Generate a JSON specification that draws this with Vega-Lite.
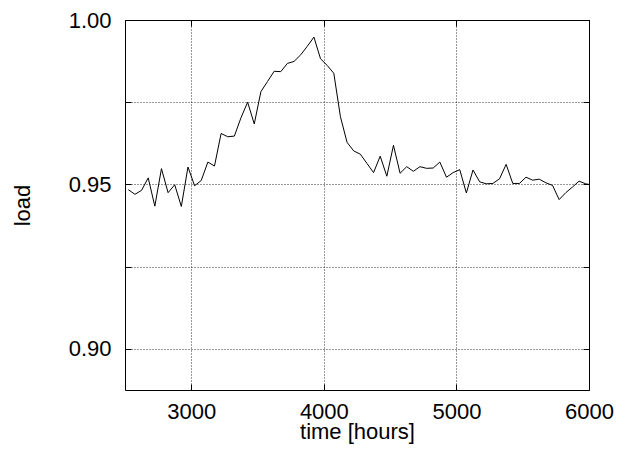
{
  "$schema": "https://vega.github.io/schema/vega-lite/v6.json",
  "width": 464,
  "height": 370,
  "autosize": {"type": "none"},
  "padding": {"left": 125, "top": 20, "right": 30, "bottom": 62},
  "background": "white",
  "config": {
    "view": {"stroke": "black", "strokeWidth": 1},
    "axis": {
      "labelFont": "Liberation Sans",
      "titleFont": "Liberation Sans",
      "labelFontSize": 22,
      "titleFontSize": 22,
      "labelColor": "black",
      "titleColor": "black",
      "titleFontWeight": "normal",
      "domain": false,
      "tickColor": "black",
      "tickSize": -6,
      "tickWidth": 1,
      "gridColor": "black",
      "gridDash": [1, 2],
      "gridWidth": 1,
      "gridOpacity": 0.8
    }
  },
  "data": {
    "values": [
      {"time": 2525, "load": 0.9484},
      {"time": 2575, "load": 0.9470},
      {"time": 2625, "load": 0.9482},
      {"time": 2675, "load": 0.9520},
      {"time": 2725, "load": 0.9434},
      {"time": 2775, "load": 0.9548},
      {"time": 2825, "load": 0.9475},
      {"time": 2875, "load": 0.9499},
      {"time": 2925, "load": 0.9433},
      {"time": 2975, "load": 0.9553},
      {"time": 3025, "load": 0.9496},
      {"time": 3075, "load": 0.9512},
      {"time": 3125, "load": 0.9568},
      {"time": 3175, "load": 0.9556},
      {"time": 3225, "load": 0.9655},
      {"time": 3275, "load": 0.9645},
      {"time": 3325, "load": 0.9647},
      {"time": 3375, "load": 0.9703},
      {"time": 3425, "load": 0.9750},
      {"time": 3475, "load": 0.9684},
      {"time": 3525, "load": 0.9782},
      {"time": 3575, "load": 0.9813},
      {"time": 3625, "load": 0.9844},
      {"time": 3675, "load": 0.9843},
      {"time": 3725, "load": 0.9868},
      {"time": 3775, "load": 0.9874},
      {"time": 3825, "load": 0.9894},
      {"time": 3875, "load": 0.9920},
      {"time": 3925, "load": 0.9948},
      {"time": 3975, "load": 0.9882},
      {"time": 4025, "load": 0.9862},
      {"time": 4075, "load": 0.9838},
      {"time": 4125, "load": 0.9706},
      {"time": 4175, "load": 0.9628},
      {"time": 4225, "load": 0.9602},
      {"time": 4275, "load": 0.9592},
      {"time": 4325, "load": 0.9564},
      {"time": 4375, "load": 0.9536},
      {"time": 4425, "load": 0.9586},
      {"time": 4475, "load": 0.9525},
      {"time": 4525, "load": 0.9619},
      {"time": 4575, "load": 0.9534},
      {"time": 4625, "load": 0.9554},
      {"time": 4675, "load": 0.9540},
      {"time": 4725, "load": 0.9554},
      {"time": 4775, "load": 0.9549},
      {"time": 4825, "load": 0.9550},
      {"time": 4875, "load": 0.9568},
      {"time": 4925, "load": 0.9522},
      {"time": 4975, "load": 0.9536},
      {"time": 5025, "load": 0.9545},
      {"time": 5075, "load": 0.9474},
      {"time": 5125, "load": 0.9544},
      {"time": 5175, "load": 0.9508},
      {"time": 5225, "load": 0.9502},
      {"time": 5275, "load": 0.9503},
      {"time": 5325, "load": 0.9517},
      {"time": 5375, "load": 0.9561},
      {"time": 5425, "load": 0.9503},
      {"time": 5475, "load": 0.9503},
      {"time": 5525, "load": 0.9522},
      {"time": 5575, "load": 0.9513},
      {"time": 5625, "load": 0.9516},
      {"time": 5675, "load": 0.9505},
      {"time": 5725, "load": 0.9497},
      {"time": 5775, "load": 0.9454},
      {"time": 5825, "load": 0.9475},
      {"time": 5875, "load": 0.9492},
      {"time": 5925, "load": 0.9510},
      {"time": 5975, "load": 0.9502},
      {"time": 6025, "load": 0.9498}
    ]
  },
  "layer": [
    {
      "mark": {"type": "line", "color": "black", "strokeWidth": 1, "clip": true},
      "encoding": {
        "x": {
          "field": "time",
          "type": "quantitative",
          "scale": {"domain": [2500, 6000], "nice": false, "zero": false},
          "axis": {
            "orient": "bottom",
            "values": [3000, 4000, 5000, 6000],
            "format": "d",
            "title": "time [hours]",
            "labelBaseline": "alphabetic",
            "labelPadding": 34,
            "labelFlush": false,
            "titleX": 232,
            "titleY": 48,
            "titleAlign": "center",
            "titleBaseline": "alphabetic"
          }
        },
        "y": {
          "field": "load",
          "type": "quantitative",
          "scale": {"domain": [0.8875, 1.0], "nice": false, "zero": false},
          "axis": {
            "orient": "left",
            "values": [0.9, 0.925, 0.95, 0.975, 1.0],
            "labelExpr": "round(datum.value * 40) % 2 == 0 ? format(datum.value, '.2f') : ''",
            "title": "load",
            "labelPadding": 20,
            "labelFlush": false,
            "titleX": -102.5,
            "titleY": 185,
            "titleAngle": -90,
            "titleAlign": "center",
            "titleBaseline": "middle"
          }
        }
      }
    },
    {
      "mark": {"type": "line", "color": "black", "strokeWidth": 1, "opacity": 0, "clip": true},
      "encoding": {
        "x": {
          "field": "time",
          "type": "quantitative",
          "scale": {"domain": [2500, 6000], "nice": false, "zero": false},
          "axis": {"orient": "top", "values": [3000, 4000, 5000, 6000], "labels": false, "title": null, "grid": false}
        },
        "y": {
          "field": "load",
          "type": "quantitative",
          "scale": {"domain": [0.8875, 1.0], "nice": false, "zero": false},
          "axis": {"orient": "right", "values": [0.9, 0.925, 0.95, 0.975, 1.0], "labels": false, "title": null, "grid": false}
        }
      }
    }
  ],
  "resolve": {"axis": {"x": "independent", "y": "independent"}}
}
